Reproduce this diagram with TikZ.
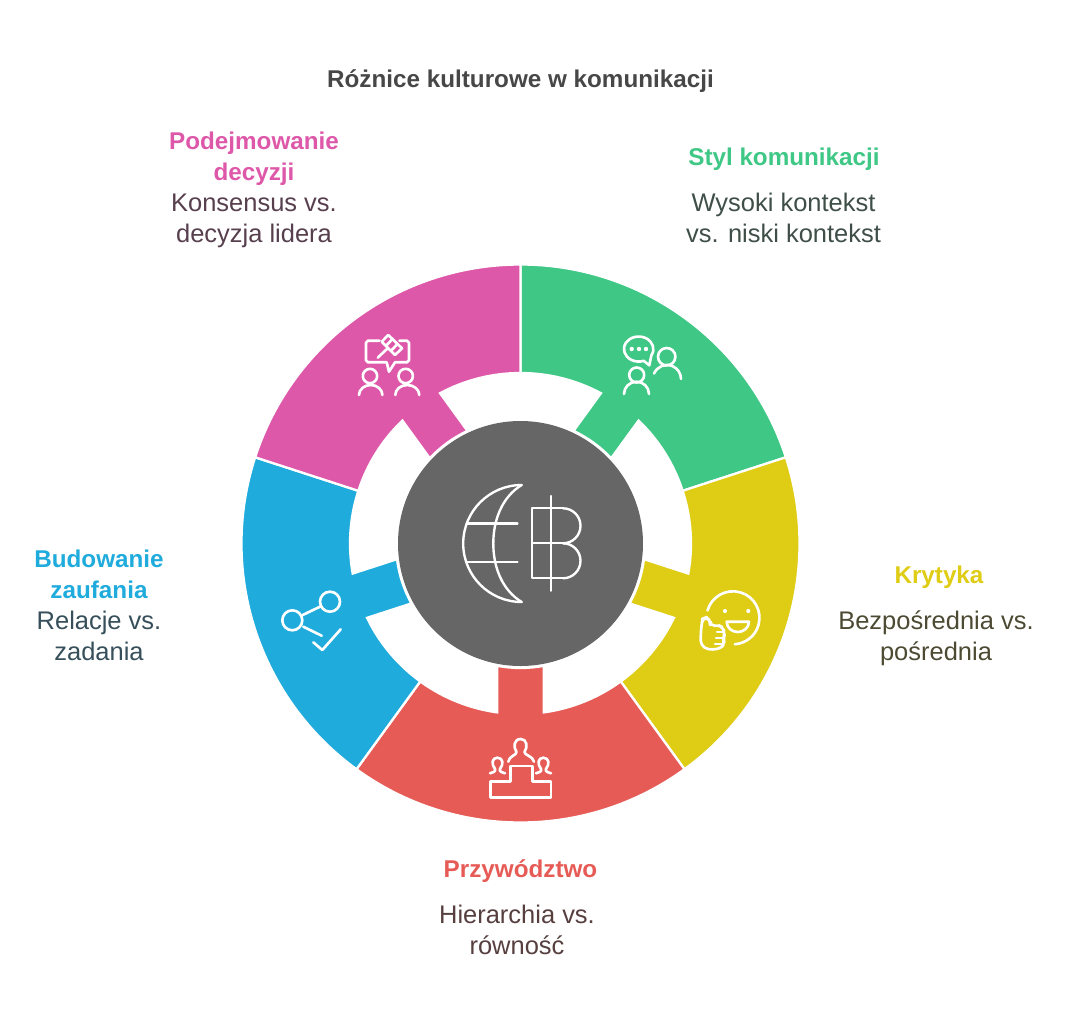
\documentclass[tikz,border=0pt]{standalone}
\usepackage{fontspec}
\setmainfont{Liberation Sans}
\usepackage{xcolor}
\definecolor{segpink}{HTML}{DE58A9}
\definecolor{seggreen}{HTML}{3EC785}
\definecolor{segyellow}{HTML}{DFCC14}
\definecolor{segred}{HTML}{E65B55}
\definecolor{segblue}{HTML}{1FABDC}
\definecolor{coregray}{HTML}{666666}
\definecolor{pinktxt}{HTML}{573F4D}
\definecolor{greentxt}{HTML}{3F4F48}
\definecolor{yellowtxt}{HTML}{4D4A33}
\definecolor{redtxt}{HTML}{573F3F}
\definecolor{bluetxt}{HTML}{364F5A}
\tikzset{
  titletxt/.style={anchor=base, inner sep=0pt, font=\fontsize{13.8}{16}\selectfont\bfseries, text=black!72},
  headtxt/.style={anchor=base, inner sep=0pt, font=\fontsize{13.8}{16}\selectfont\bfseries},
  bodytxt/.style={anchor=base, inner sep=0pt, font=\fontsize{14.5}{16}\selectfont},
  iconline/.style={draw=white, line width=1.5pt, line cap=round, line join=round},
  coreline/.style={draw=white, line width=1.35pt, line cap=round, line join=round},
}
\begin{document}
\begin{tikzpicture}[x=0.02cm,y=-0.02cm]
  \useasboundingbox (0,0) rectangle (1080,1025);

  % ring segments, angles count clockwise from the right
  \begin{scope}[shift={(520.5,543.5)}]
    \foreach \col/\m in {seggreen/-54, segyellow/18, segred/90, segblue/162, segpink/234}{
      \filldraw[fill=\col, draw=white, line width=1.3pt, line join=miter]
        (\m-36:279) arc[start angle=\m-36, end angle=\m+36, radius=279]
        -- (\m+36:170.5) arc[start angle=\m+36, end angle=\m+7.84, radius=170.5]
        -- (\m+10.76:124.5) arc[start angle=\m+10.76, end angle=\m-10.76, radius=124.5]
        -- (\m-7.84:170.5) arc[start angle=\m-7.84, end angle=\m-36, radius=170.5]
        -- cycle;
    }
    \fill[coregray] (0,0) circle[radius=122.5];
  \end{scope}

  % globe and coin
  \draw[coreline] (521.7,485) arc[start angle=270, end angle=90, radius=58.5];
  \draw[coreline] (521.7,485) .. controls (502,497) and (493.3,520) .. (493.3,543.5) .. controls (493.3,567) and (502,590) .. (521.7,602);
  \draw[coreline] (466.7,523.5) -- (517.5,523.5);
  \draw[coreline] (466.7,561.7) -- (517.5,561.7);
  \draw[coreline] (563,508.3) -- (532.3,508.3) -- (532.3,578.3) -- (563,578.3);
  \draw[coreline] (532.3,543.3) -- (563,543.3);
  \draw[coreline] (563,508.3) arc[start angle=270, end angle=450, radius=17.5];
  \draw[coreline] (563,543.3) arc[start angle=270, end angle=450, radius=17.5];
  \draw[coreline] (551.3,496) -- (551.3,590.7);

  % gavel icon
  \draw[iconline] (379.5,340.7) -- (368,340.7) -- (366,342.7) -- (366,360.3) -- (368,362.3) -- (386.7,362.3) -- (389,371.7) -- (395,362.3) -- (407,362.3) -- (409,360.3) -- (409,342.7) -- (407,340.7) -- (399.5,340.7);
  \draw[iconline] (377.7,357.7) -- (388,348);
  \draw[iconline] (388.3,335) -- (402,348.3) -- (395,355) -- (381.7,341.7) -- cycle;
  \draw[iconline] (392.5,339) -- (386,345.8);
  \draw[iconline] (397.5,344) -- (391,350.8);
  \draw[iconline] (370,376) circle[radius=7.2];
  \draw[iconline] (359,395) arc[start angle=180, end angle=360, x radius=11.7, y radius=10];
  \draw[iconline] (405.7,376) circle[radius=7.2];
  \draw[iconline] (395.3,395) arc[start angle=180, end angle=360, x radius=12, y radius=10];

  % chat icon
  \draw[iconline] (651.4,355.3) arc[start angle=30, end angle=-290, x radius=14.7, y radius=12.5] -- (649.3,365.3) -- cycle;
  \fill[white] (631.7,349) circle[radius=2.2];
  \fill[white] (639,349) circle[radius=2.2];
  \fill[white] (646,349) circle[radius=2.2];
  \draw[iconline] (666.7,356.7) circle[radius=8.7];
  \draw[iconline] (654.1,373.5) arc[start angle=203, end angle=360, radius=14];
  \draw[iconline] (636.7,375) circle[radius=7.5];
  \draw[iconline] (624,394) arc[start angle=180, end angle=360, x radius=12.5, y radius=12.3];

  % smile icon
  \draw[iconline] (707.5,610.5) arc[start angle=196, end angle=446, radius=26.5];
  \fill[white] (725,611) circle[radius=2.1];
  \fill[white] (748.3,611) circle[radius=2.1];
  \draw[iconline] (726.7,621.7) -- (749,621.7) .. controls (749,628) and (743,632) .. (738,632) .. controls (732,632) and (726.7,628) .. (726.7,621.7) -- cycle;
  \draw[iconline, rounded corners=2.5] (700.7,635) -- (701.7,623.3) -- (702.7,618.7) -- (706,617.3) -- (710.7,620.7) -- (710,626) -- (718.3,625) -- (722.7,627.3) -- (725,633.3) -- (723.3,638.3) -- (724.3,642.7) -- (721.7,648.3) -- (708.3,650) -- (700.7,645) -- cycle;
  \draw[iconline] (717,632) -- (724,632);
  \draw[iconline] (716,638) -- (723.5,638);
  \draw[iconline] (715,644) -- (723,644);

  % network icon
  \draw[iconline] (292.3,620.3) circle[radius=10];
  \draw[iconline] (330,601.7) circle[radius=10];
  \draw[iconline] (302.7,615) -- (320,606.7);
  \draw[iconline] (303.3,626.7) -- (321.7,635.7);
  \draw[iconline] (313.3,642.3) -- (322.3,650) -- (340.7,629.3);

  % podium icon
  \draw[iconline] (510.7,781.7) -- (510.7,766) -- (532.3,766) -- (532.3,781.7) -- (551,781.7) -- (551,797.3) -- (490.7,797.3) -- (490.7,781.7) -- cycle;
  \draw[iconline] (508.3,761.7) .. controls (509,756) and (517,755) .. (516.5,752) .. controls (513,747) and (514,739) .. (520.7,739) .. controls (527,739) and (528,747) .. (524.5,752) .. controls (524,755) and (533,756) .. (534,761.7);
  \draw[iconline] (490,773.3) .. controls (493,772) and (496,772) .. (495,769) .. controls (491,764) and (492,757.7) .. (497.3,757.7) .. controls (503,757.7) and (504,764) .. (500,769) .. controls (499,772) and (502,772) .. (505,773.3);
  \draw[iconline] (536,773.3) .. controls (539,772) and (542,772) .. (541,769) .. controls (537,764) and (538,757.7) .. (543.3,757.7) .. controls (549,757.7) and (550,764) .. (546,769) .. controls (545,772) and (548,772) .. (551,773.3);

  % labels
  \node[titletxt] (title) at (520.5,87) {Różnice kulturowe w komunikacji};

  \node[headtxt, text=segpink] (pinkhead) at (254,149) {Podejmowanie};
  \node[headtxt, text=segpink] (pinkheadb) at (254,180) {decyzji};
  \node[bodytxt, text=pinktxt] (pinkbody) at (254,211) {Konsensus vs.};
  \node[bodytxt, text=pinktxt] (pinkbodyb) at (254,242) {decyzja lidera};

  \node[headtxt, text=seggreen] (greenhead) at (784,165) {Styl komunikacji};
  \node[bodytxt, text=greentxt] (greenbody) at (783.5,211) {Wysoki kontekst};
  \node[bodytxt, text=greentxt] (greenbodyb) at (783.5,242) {vs. niski kontekst};

  \node[headtxt, text=segyellow] (yellowhead) at (939,583) {Krytyka};
  \node[bodytxt, text=yellowtxt] (yellowbody) at (936,629) {Bezpośrednia vs.};
  \node[bodytxt, text=yellowtxt] (yellowbodyb) at (936,660) {pośrednia};

  \node[headtxt, text=segred] (redhead) at (520.5,877) {Przywództwo};
  \node[bodytxt, text=redtxt] (redbody) at (517,923) {Hierarchia vs.};
  \node[bodytxt, text=redtxt] (redbodyb) at (517,954) {równość};

  \node[headtxt, text=segblue] (bluehead) at (99,567) {Budowanie};
  \node[headtxt, text=segblue] (blueheadb) at (99,598) {zaufania};
  \node[bodytxt, text=bluetxt] (bluebody) at (99,629) {Relacje vs.};
  \node[bodytxt, text=bluetxt] (bluebodyb) at (99,660) {zadania};
\end{tikzpicture}
\end{document}
